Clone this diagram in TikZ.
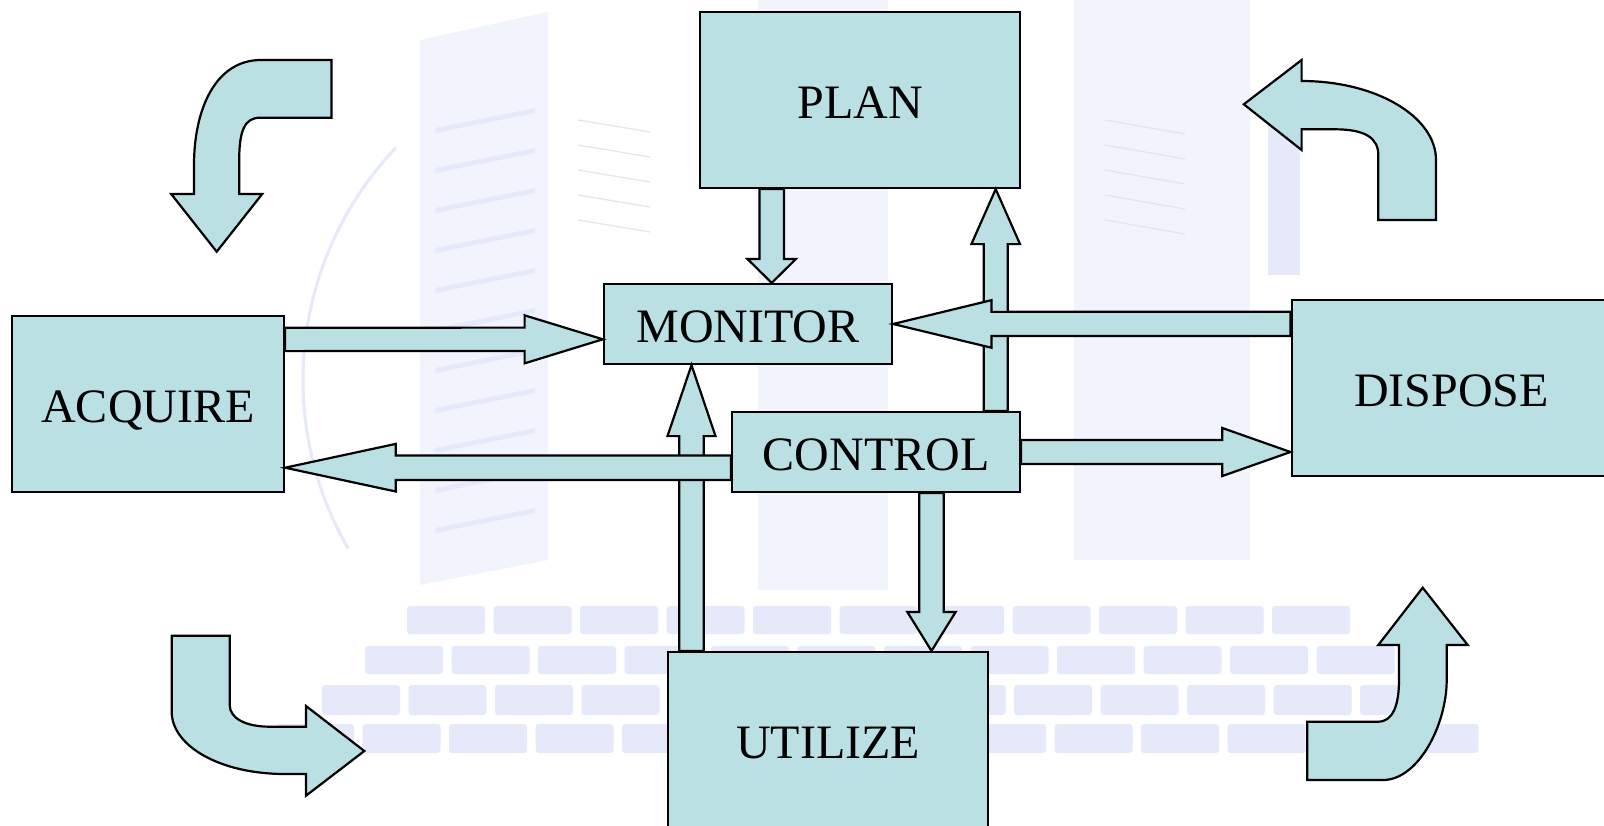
\documentclass[tikz,border=0pt]{standalone}
\usepackage{fontspec}
\setmainfont{Liberation Serif}
\usetikzlibrary{calc}

\definecolor{boxfill}{RGB}{186,224,227}
\definecolor{wmark}{RGB}{229,233,250}
\definecolor{wmarklight}{RGB}{242,244,253}
\definecolor{wmarkline}{RGB}{226,228,238}

\tikzset{
  stage/.style={draw=black, line width=2.2pt, fill=boxfill, rectangle,
    inner sep=0pt, text height=36pt, text depth=0pt,
    font=\fontsize{48}{56}\selectfont},
  blk/.style={draw=black, line width=2.2pt, fill=boxfill, line join=miter},
  brick/.style={fill=wmark, rounded corners=3pt},
}

% straight block arrow: tail, tip, shaft half-width, head half-width, head length
\newcommand\blockarrow[5]{%
  \coordinate (ba-c) at ($(#2)!#5!(#1)$);
  \draw[blk] ($(#1)!#3!90:(#2)$) -- ($(ba-c)!#3!90:(#2)$)
    -- ($(ba-c)!#4!90:(#2)$) -- (#2) -- ($(ba-c)!#4!-90:(#2)$)
    -- ($(ba-c)!#3!-90:(#2)$) -- ($(#1)!#3!-90:(#2)$) -- cycle;}

\begin{document}
\begin{tikzpicture}[x=1pt,y=-1pt]
\useasboundingbox (0,0) rectangle (1604,825);
\clip (0,0) rectangle (1604,825);
\fill[white] (0,0) rectangle (1604,825);

% faint watermark: towers, ring and brick rows
\fill[wmarklight] (420,40) -- (548,12) -- (548,560) -- (420,585) -- cycle;
\foreach \yy in {120,160,...,520} {\fill[wmark] (435,\yy+8) -- (535,\yy-12) -- (535,\yy-7) -- (435,\yy+13) -- cycle;}
\fill[wmarklight] (758,0) rectangle (888,590);
\fill[wmarklight] (1074,0) rectangle (1250,560);
\fill[wmark] (1268,100) rectangle (1300,275);
\foreach \yy in {120,145,...,220} {\draw[wmarkline, line width=1.2pt] (578,\yy) -- (650,\yy+12);}
\foreach \yy in {120,145,...,220} {\draw[wmarkline, line width=1.2pt] (1105,\yy) -- (1185,\yy+14);}
\draw[wmark, line width=3pt] (640,380) ++(223.6:337) arc[start angle=223.6, end angle=150, radius=337];
\foreach \n in {0,...,10} {\fill[brick] (407+86.5*\n,606) rectangle ++(78,28);}
\foreach \n in {0,...,11} {\fill[brick] (365+86.5*\n,646) rectangle ++(78,28);}
\foreach \n in {0,...,12} {\fill[brick] (322+86.5*\n,685) rectangle ++(78,30);}
\foreach \n in {0,...,13} {\fill[brick] (276+86.5*\n,724) rectangle ++(78,29);}

% stages
\node[stage, minimum width=320pt, minimum height=176pt] (plan)    at (860,100)    {PLAN};
\node[stage, minimum width=288pt, minimum height=80pt]  (monitor) at (748,324)    {MONITOR};
\node[stage, minimum width=288pt, minimum height=80pt]  (control) at (876,452)    {CONTROL};
\node[stage, minimum width=272pt, minimum height=176pt] (acquire) at (148,404)    {ACQUIRE};
\node[stage, minimum width=320pt, minimum height=176pt] (dispose) at (1451.6,388) {DISPOSE};
\node[stage, minimum width=320pt, minimum height=176pt] (utilize) at (828,740)    {UTILIZE};

% vertical flows
\blockarrow{[xshift=-88.3pt]plan.south}{[xshift=23.7pt]monitor.north}{12.3pt}{24.3pt}{24pt}
\blockarrow{[xshift=119.7pt]control.north}{[xshift=135.7pt]plan.south}{12pt}{24.3pt}{55pt}
\blockarrow{[xshift=-136.5pt]utilize.north}{[xshift=-56.5pt]monitor.south}{12.2pt}{24pt}{71pt}
\blockarrow{[xshift=55.5pt]control.south}{[xshift=103.5pt]utilize.north}{12.2pt}{24.2pt}{39pt}

% horizontal flows
\blockarrow{[yshift=64.6pt]acquire.east}{[yshift=-15.3pt]monitor.west}{11.7pt}{24pt}{78.3pt}
\blockarrow{[yshift=-15.7pt]control.west}{[yshift=-63.7pt]acquire.east}{12.3pt}{23.8pt}{110.7pt}
\blockarrow{[yshift=64.2pt]dispose.west}{monitor.east}{12.1pt}{23.8pt}{98.4pt}
\blockarrow{control.east}{[yshift=-64pt]dispose.west}{12pt}{24pt}{68.2pt}

% cycle arrows in the corners
\draw[blk] (331.4,60) -- (261,60) .. controls (215,60) and (194,110) .. (194,165)
  -- (194,194) -- (171.2,194) -- (216.7,251.7) -- (262.2,194) -- (239.2,194)
  -- (239.2,160) .. controls (239.2,130) and (245,117.7) .. (260,117.7)
  -- (331.4,117.7) -- cycle;
\draw[blk] (1243.8,104.3) -- (1301.6,60) -- (1301.6,81)
  .. controls (1375.8,81) and (1436,116.4) .. (1436,160) -- (1436,220)
  -- (1378.3,220) -- (1378.3,155) .. controls (1378.3,138) and (1365,129.3) .. (1335,129.3)
  -- (1301.6,129.3) -- (1301.6,150) -- cycle;
\draw[blk] (171.7,635.7) -- (229.7,635.7) -- (229.7,705)
  .. controls (229.7,718) and (245,726.7) .. (270,726.7) -- (306,726.7)
  -- (306,706) -- (364.3,751) -- (306,795.7) -- (306,774) -- (285,774)
  .. controls (220,774) and (171.7,746) .. (171.7,711.7) -- cycle;
\draw[blk] (1307.3,721.7) -- (1378,721.7) .. controls (1393,721.7) and (1399,705) .. (1399,680)
  -- (1399,645) -- (1378.3,645) -- (1422.7,587.7) -- (1467.7,645) -- (1446.7,645)
  -- (1446.7,680) .. controls (1446.7,724.8) and (1418.2,780) .. (1383,780)
  -- (1307.3,780) -- cycle;
\end{tikzpicture}
\end{document}
